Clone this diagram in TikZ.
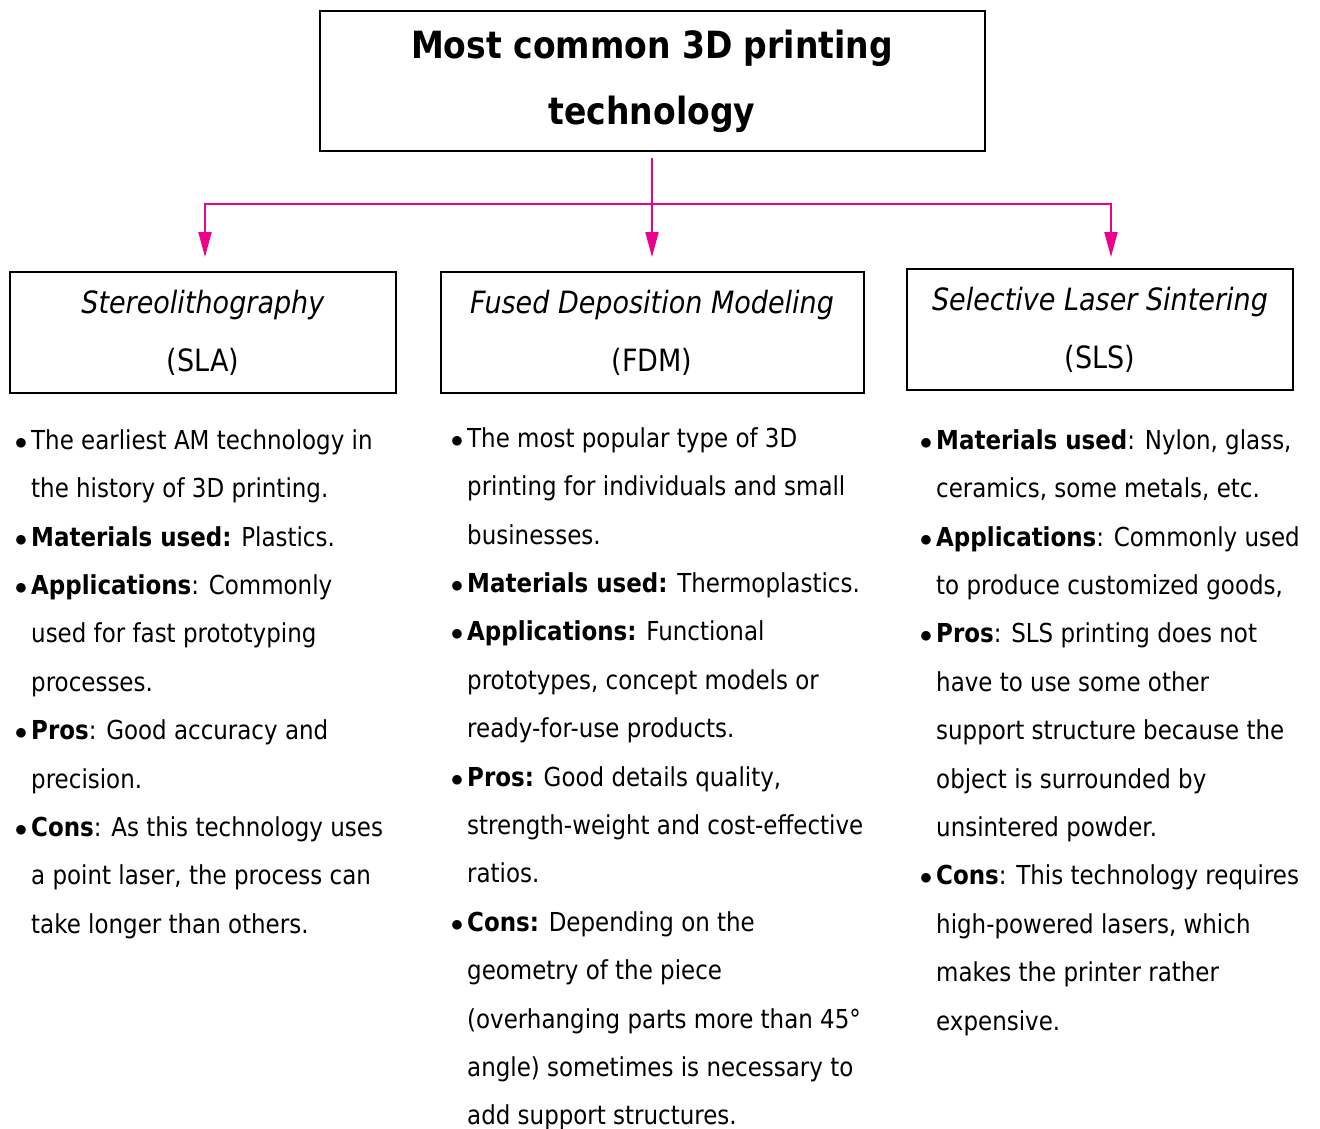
\documentclass[tikz,border=0pt]{standalone}
\usepackage{fontspec}
\setmainfont[FakeStretch=0.88]{DejaVu Sans}
\usetikzlibrary{arrows.meta,positioning}
\definecolor{hotpink}{RGB}{236, 0, 140}
\newcommand{\itm}{\llap{\fontsize{30}{30}\selectfont$\bullet$\hspace{4pt}}}
\newcommand{\firstline}{\rule{0pt}{20pt}}
\tikzset{
  headbox/.style={draw, line width=2pt, inner sep=0pt, align=center, font=\fontsize{30.7}{58}\selectfont},
  itemtext/.style={anchor=north west, inner sep=0pt, align=left, font=\fontsize{26.1}{48.4}\selectfont},
  branch/.style={hotpink, line width=2pt, -{Triangle[length=25pt,width=13pt]}},
}

\begin{document}
\begin{tikzpicture}[x=1pt, y=-1pt]
            \useasboundingbox (0,0) rectangle (1320,1128);
            % boxes
            \node[headbox, minimum width=665pt, minimum height=140pt, font=\fontsize{37.5}{66}\selectfont\bfseries] (title) at (652,81) {Most common 3D printing\\technology};
            \node[headbox, minimum width=386pt, minimum height=121pt] (sla) at (203,332.5) {\textit{Stereolithography}\\(SLA)};
            \node[headbox, minimum width=423pt, minimum height=121pt] (fdm) at (652,332.5) {\textit{Fused Deposition Modeling}\\(FDM)};
            \node[headbox, minimum width=386pt, minimum height=121pt] (sls) at (1100,329.5) {\textit{Selective Laser Sintering}\\(SLS)};
            % arrows
            \coordinate (split) at (652,204);
            \draw[branch, shorten <=6pt, shorten >=14pt] (title.south) -- (fdm.north);
            \draw[branch, shorten >=14pt] (split) -| ([xshift=2pt]sla.north);
            \draw[branch, shorten >=11pt] (split) -| ([xshift=11pt]sls.north);
            % bullet lists
            \node[itemtext] (slatext) at (31,429) {\firstline\itm The earliest AM technology in\\
                the history of 3D printing.\\
                \itm\textbf{Materials used:} Plastics.\\
                \itm\textbf{Applications}: Commonly\\
                used for fast prototyping\\
                processes.\\
                \itm\textbf{Pros}: Good accuracy and\\
                precision.\\
                \itm\textbf{Cons}: As this technology uses\\
                a point laser, the process can\\
                take longer than others.};
            \node[itemtext] (fdmtext) at (467,427) {\firstline\itm The most popular type of 3D\\
                printing for individuals and small\\
                businesses.\\
                \itm\textbf{Materials used:} Thermoplastics.\\
                \itm\textbf{Applications:} Functional\\
                prototypes, concept models or\\
                ready-for-use products.\\
                \itm\textbf{Pros:} Good details quality,\\
                strength-weight and cost-effective\\
                ratios.\\
                \itm\textbf{Cons:} Depending on the\\
                geometry of the piece\\
                (overhanging parts more than 45°\\
                angle) sometimes is necessary to\\
                add support structures.};
            \node[itemtext] (slstext) at (936,429) {\firstline\itm\textbf{Materials used}: Nylon, glass,\\
                ceramics, some metals, etc.\\
                \itm\textbf{Applications}: Commonly used\\
                to produce customized goods,\\
                \itm\textbf{Pros}: SLS printing does not\\
                have to use some other\\
                support structure because the\\
                object is surrounded by\\
                unsintered powder.\\
                \itm\textbf{Cons}: This technology requires\\
                high-powered lasers, which\\
                makes the printer rather\\
                expensive.};
        \end{tikzpicture}
\end{document}
